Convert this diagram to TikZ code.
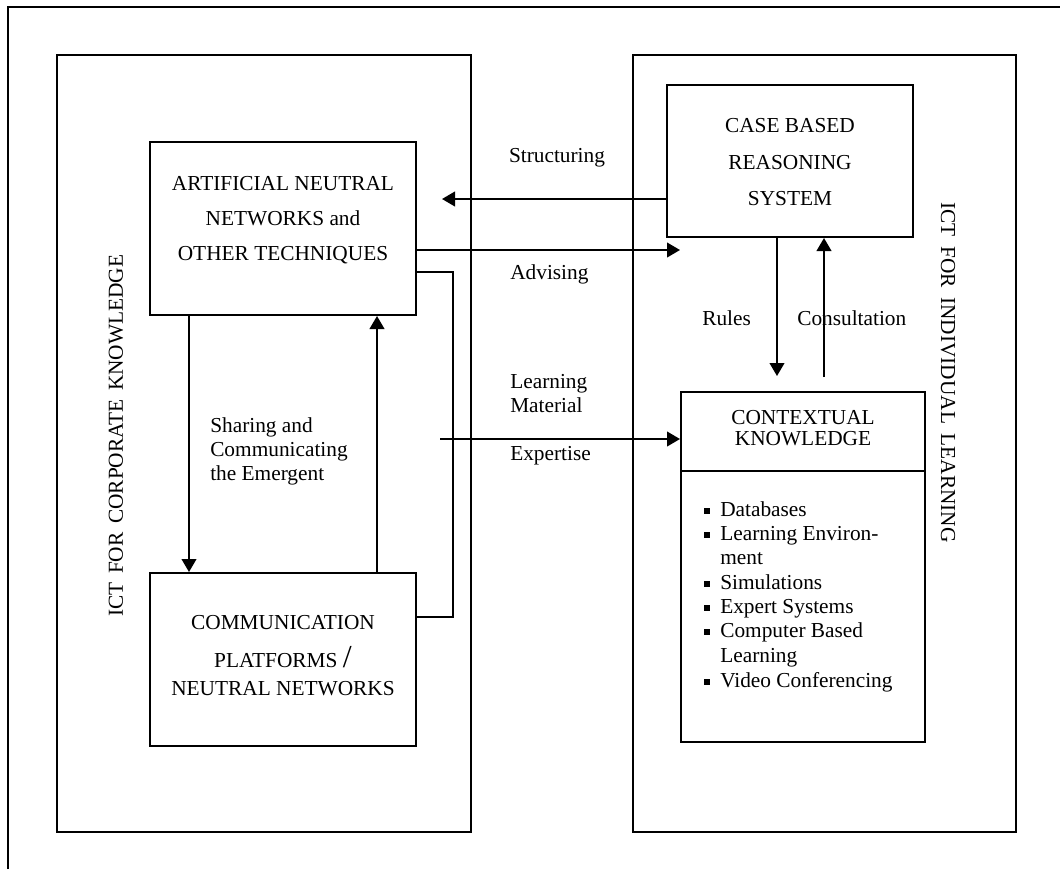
\documentclass[tikz,border=0pt]{standalone}
\usepackage{fontspec}
\setmainfont{Liberation Serif}
\usetikzlibrary{arrows.meta}

\begin{document}
\begin{tikzpicture}[x=0.75pt,y=-0.75pt,
  box/.style={draw, line width=1.5pt, inner sep=0pt},
  frame/.style={draw, line width=1.3pt},
  txt/.style={font=\fontsize{16}{18.4}\selectfont, inner sep=0pt, anchor=base},
  ltxt/.style={txt, anchor=base west},
  vtxt/.style={font=\fontsize{16}{18.4}\selectfont, inner sep=0pt, anchor=west},
  arr/.style={-{Triangle[length=9.75pt,width=11pt]}, line width=1.5pt},
  link/.style={line width=1.5pt},
  bullet/.style={fill, inner sep=0pt, minimum size=4.5pt},
]
\useasboundingbox (0,0) rectangle (1060,869);

% page frame (top and left edges only)
\draw[frame] (8,869) -- (8,7) -- (1060,7);

% the two large areas
\node[box, minimum width=310.5pt, minimum height=582.75pt] (corp) at (264,443.5) {};
\node[box, minimum width=287.25pt, minimum height=582.75pt] (indiv) at (824.5,443.5) {};

\node[vtxt, rotate=90] (corpT) at (116,617) {ICT\hspace{0.4em}FOR\hspace{0.4em}CORPORATE\hspace{0.4em}KNOWLEDGE};
\node[vtxt, rotate=-90] (indivT) at (948,202) {ICT\hspace{0.45em}FOR\hspace{0.45em}INDIVIDUAL\hspace{0.45em}LEARNING};

% artificial neural networks box
\node[box, minimum width=199.5pt, minimum height=129.75pt] (ann) at (283,228.5) {};
\node[txt] (ann1) at (283,190) {ARTIFICIAL NEUTRAL};
\node[txt] (ann2) at (283,225) {NETWORKS and};
\node[txt] (ann3) at (283,260) {OTHER TECHNIQUES};

% communication platforms box
\node[box, minimum width=199.5pt, minimum height=129.75pt] (comm) at (283,659.5) {};
\node[txt] (comm1) at (283,629) {COMMUNICATION};
\node[txt] (comm2) at (283,667) {PLATFORMS \fontsize{24}{24}\selectfont/};
\node[txt] (comm3) at (283,695) {NEUTRAL NETWORKS};

% case based reasoning box
\node[box, minimum width=184.5pt, minimum height=114pt] (cbr) at (790,161) {};
\node[txt] (cbr1) at (790,132) {CASE BASED};
\node[txt] (cbr2) at (790,169) {REASONING};
\node[txt] (cbr3) at (790,205) {SYSTEM};

% contextual knowledge box
\node[box, minimum width=183pt, minimum height=262.5pt] (ctx) at (803,567) {};
\draw[link] (ctx.west |- 0,471) coordinate (ctxdl) -- (ctx.east |- 0,471) coordinate (ctxdr);
\node[txt] (ctx1) at (803,424) {CONTEXTUAL};
\node[txt] (ctx2) at (803,445) {KNOWLEDGE};

% tool list
\foreach \n/\y/\t in {b1/516/Databases, b2/540/Learning Environ-, b4/589/Simulations,
                      b5/613/Expert Systems, b6/637/Computer Based, b8/687/Video Conferencing}{
  \node[bullet] (\n m) at (707,\y-5.5) {};
  \node[ltxt] (\n) at (720,\y) {\t};
}
\node[ltxt] (b3) at (720,564) {ment};
\node[ltxt] (b7) at (720,662) {Learning};

% connectors between the boxes
\coordinate (structEnd) at (442,199);
\draw[arr] (cbr.west |- structEnd) -- (structEnd);
\coordinate (advEnd) at (680,250);
\draw[arr] (ann.east |- advEnd) -- (advEnd);

\coordinate (downX) at (189,0);
\draw[arr] (ann.south -| downX) -- (comm.north -| downX);
\coordinate (upX) at (377,0);
\draw[arr] (comm.north -| upX) -- (ann.south -| upX);

\coordinate (loopA) at (453,272);
\coordinate (loopB) at (453,617);
\draw[link] (ann.east |- loopA) -- (loopA) -- (loopB) -- (comm.east |- loopB);

\coordinate (expStart) at (440,439);
\draw[arr] (expStart) -- (ctx.west |- expStart);

\coordinate (rulesEnd) at (777,376);
\draw[arr] (cbr.south -| rulesEnd) -- (rulesEnd);
\coordinate (consStart) at (824,377);
\draw[arr] (consStart) -- (cbr.south -| consStart);

% connector labels
\node[txt] (lStruct) at (557,162) {Structuring};
\node[ltxt] (lAdv) at (510,279) {Advising};
\node[ltxt] (lLearn) at (510,388) {Learning};
\node[ltxt] (lMat) at (510,412) {Material};
\node[ltxt] (lExp) at (510,460) {Expertise};
\node[ltxt] (lRules) at (702,325) {Rules};
\node[ltxt] (lCons) at (797,325) {Consultation};
\node[ltxt] (lShare1) at (210,432) {Sharing and};
\node[ltxt] (lShare2) at (210,456) {Communicating};
\node[ltxt] (lShare3) at (210,480) {the Emergent};
\end{tikzpicture}
\end{document}
